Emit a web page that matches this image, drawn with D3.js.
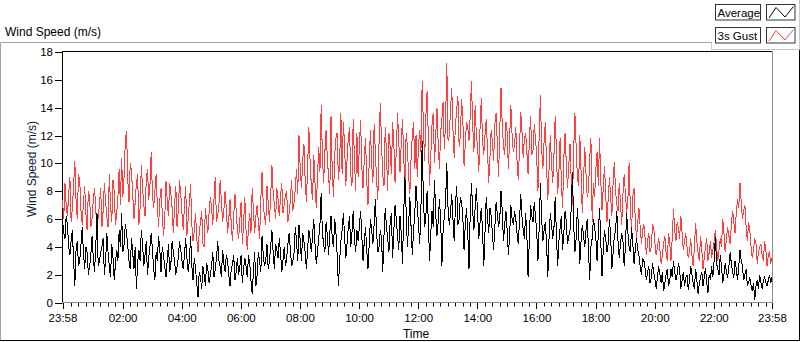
<!DOCTYPE html>
<html>
<head>
<meta charset="utf-8">
<script src="https://cdn.jsdelivr.net/npm/d3@7/dist/d3.min.js"></script>
<style>
  body { margin: 0; background: #fff; }
  svg { display: block; font-family: "Liberation Sans", Arial, sans-serif; }
</style>
</head>
<body>
<div id="chart"></div>
<script>
'use strict';

// 2.5 minute samples from 23:58 to 23:58 next day, one row per 2 hours
const gust = [
    7.4, 6.0, 8.6, 7.0, 6.2, 7.8, 9.0, 5.8, 6.8, 8.4, 10.2, 7.4, 6.0, 9.2, 8.8, 6.6, 5.6, 7.2, 8.4, 6.4, 5.2, 8.0, 7.6, 5.4, 6.0, 7.4, 8.2, 6.8, 4.8, 6.2, 7.0, 8.2, 5.4, 6.6, 8.6, 7.2, 6.2, 5.4, 9.2, 7.0, 5.8, 8.8, 8.0, 5.6, 6.4, 7.6, 9.6, 7.0,
    10.4, 7.6, 9.0, 11.6, 12.3, 8.8, 7.2, 10.0, 9.4, 7.8, 6.0, 7.2, 8.6, 9.2, 5.6, 6.8, 9.9, 8.2, 7.0, 6.2, 8.8, 9.6, 7.4, 8.4, 10.8, 7.8, 6.8, 8.0, 9.2, 7.0, 5.4, 7.4, 8.2, 6.4, 4.8, 6.0, 8.7, 7.4, 6.2, 8.6, 7.8, 6.8, 5.0, 7.0, 8.4, 5.4, 6.6, 8.8,
    7.8, 6.4, 5.2, 7.0, 8.4, 4.8, 6.0, 7.2, 8.5, 5.6, 4.4, 5.2, 6.4, 4.6, 3.6, 5.0, 5.8, 6.6, 4.2, 4.0, 6.8, 5.8, 5.0, 6.4, 7.6, 6.8, 5.6, 7.4, 9.0, 5.8, 6.2, 7.0, 8.8, 7.2, 5.8, 6.6, 8.0, 6.8, 5.0, 6.0, 7.4, 5.6, 4.4, 6.2, 7.8, 6.6, 5.2, 4.6,
    6.0, 7.2, 4.2, 5.6, 7.6, 5.2, 3.8, 5.4, 6.4, 5.0, 8.2, 6.6, 5.0, 6.2, 7.0, 5.8, 4.6, 7.4, 9.4, 7.0, 6.2, 5.6, 8.4, 7.2, 5.8, 7.6, 9.9, 8.0, 7.0, 6.0, 8.2, 7.4, 6.2, 7.6, 8.6, 6.4, 7.0, 7.8, 8.0, 5.8, 6.4, 7.4, 8.8, 6.6, 7.2, 8.2, 9.6, 7.8,
    12.0, 9.6, 8.2, 10.2, 11.4, 8.8, 7.2, 9.8, 12.6, 10.2, 8.4, 7.4, 10.6, 8.6, 6.8, 9.0, 11.2, 9.4, 14.2, 10.6, 8.6, 10.8, 12.4, 10.4, 9.0, 7.8, 13.4, 9.4, 7.6, 10.6, 11.8, 12.2, 8.8, 10.0, 13.6, 9.2, 13.0, 11.4, 8.4, 10.2, 11.8, 12.6, 9.2, 8.4, 13.2, 10.4, 8.0, 12.2,
    9.0, 11.2, 13.1, 9.8, 8.2, 10.4, 11.8, 8.8, 7.0, 10.2, 12.4, 10.0, 8.6, 12.8, 10.8, 8.8, 7.4, 11.6, 14.3, 11.4, 9.2, 8.4, 12.6, 10.8, 8.0, 12.2, 11.2, 9.2, 13.0, 11.4, 8.6, 11.0, 13.6, 11.6, 9.4, 11.4, 13.2, 10.6, 8.2, 12.2, 11.2, 9.0, 7.8, 10.4, 12.0, 13.0, 9.6, 12.0,
    9.0, 11.2, 12.4, 10.8, 15.9, 12.6, 10.2, 13.4, 15.2, 11.8, 8.4, 10.6, 12.8, 13.6, 10.0, 12.0, 14.0, 11.4, 9.6, 12.2, 13.2, 14.4, 11.0, 13.0, 17.2, 11.6, 12.0, 13.8, 15.4, 12.4, 10.4, 12.8, 13.8, 14.8, 11.2, 12.0, 14.6, 13.2, 9.8, 11.4, 13.0, 12.6, 11.6, 13.4, 15.9, 12.8, 10.8, 14.2,
    12.0, 11.2, 9.4, 12.6, 14.7, 11.6, 10.6, 12.0, 13.2, 11.0, 8.6, 10.4, 12.4, 11.6, 10.2, 12.8, 13.6, 11.4, 9.0, 12.4, 15.4, 12.8, 11.2, 10.6, 13.0, 12.2, 9.6, 11.8, 14.2, 12.0, 10.8, 11.4, 12.6, 10.2, 8.8, 11.0, 13.7, 12.4, 10.4, 11.8, 12.2, 10.8, 9.2, 11.6, 13.4, 10.6, 11.0, 12.8,
    11.8, 10.4, 8.0, 12.2, 14.9, 11.0, 9.6, 11.6, 13.0, 9.8, 7.4, 9.6, 12.0, 10.0, 8.6, 10.6, 13.4, 10.8, 7.8, 9.4, 11.8, 8.6, 6.8, 10.4, 12.2, 10.0, 8.2, 9.8, 11.4, 8.8, 7.0, 11.0, 13.6, 11.2, 9.0, 8.4, 12.0, 9.4, 6.4, 8.8, 11.2, 9.2, 7.6, 8.0, 10.4, 11.8, 5.8, 8.6,
    7.6, 9.6, 10.8, 8.4, 11.8, 8.8, 6.6, 8.2, 9.8, 7.8, 5.8, 7.4, 9.0, 7.6, 6.2, 8.6, 10.1, 8.0, 7.0, 6.6, 8.6, 7.2, 5.6, 7.8, 9.2, 7.8, 6.4, 7.4, 10.0, 6.8, 5.2, 7.6, 8.2, 6.0, 4.6, 5.8, 6.8, 5.4, 4.2, 5.2, 5.6, 4.6, 3.4, 4.4, 5.0, 3.6, 4.0, 5.6,
    5.4, 4.2, 3.4, 4.0, 4.6, 3.8, 2.8, 3.4, 4.2, 4.8, 3.6, 3.0, 5.0, 4.2, 3.0, 4.6, 6.7, 5.2, 4.4, 5.8, 5.4, 4.6, 6.2, 5.0, 3.8, 4.4, 5.0, 4.0, 3.2, 3.6, 4.6, 3.4, 2.6, 4.0, 5.7, 4.4, 3.6, 3.0, 4.8, 3.8, 2.4, 3.2, 4.0, 4.6, 3.0, 3.6, 4.4, 3.2,
    3.8, 4.4, 5.2, 4.0, 3.0, 3.8, 4.6, 4.0, 6.0, 5.0, 3.6, 4.6, 5.4, 4.8, 4.2, 5.6, 6.6, 5.8, 5.0, 6.4, 7.4, 6.8, 8.6, 7.2, 6.0, 6.6, 7.0, 5.4, 4.4, 5.8, 5.2, 4.0, 3.2, 3.8, 4.6, 4.2, 2.8, 3.6, 4.0, 4.2, 3.4, 3.0, 4.4, 3.8, 2.6, 3.4, 3.6, 2.8,
    3.2
];

const average = [
    6.0, 5.0, 4.6, 6.2, 5.6, 4.0, 3.4, 4.4, 5.2, 3.0, 1.2, 3.8, 4.4, 2.6, 3.0, 4.2, 5.4, 3.6, 2.4, 4.0, 3.6, 2.0, 2.6, 3.4, 4.8, 3.2, 2.2, 4.0, 6.4, 2.6, 3.0, 3.6, 4.0, 4.6, 2.0, 3.0, 5.0, 3.6, 2.6, 1.8, 4.2, 3.2, 1.6, 2.8, 3.8, 3.0, 5.2, 4.0,
    6.4, 3.6, 4.2, 5.6, 5.0, 4.0, 3.0, 2.4, 4.6, 3.6, 2.4, 4.0, 1.0, 2.8, 3.8, 3.0, 5.2, 4.2, 2.6, 3.4, 4.4, 2.0, 3.2, 4.0, 5.0, 3.8, 2.4, 1.6, 3.6, 3.0, 4.8, 3.8, 2.2, 4.0, 3.4, 2.6, 1.8, 3.0, 4.2, 2.2, 2.8, 4.4, 3.6, 3.0, 2.0, 2.6, 3.2, 4.4,
    3.8, 3.0, 2.4, 3.4, 4.6, 3.2, 2.2, 3.0, 4.8, 2.6, 1.6, 3.2, 2.4, 1.4, 0.4, 2.2, 1.8, 1.0, 2.6, 2.0, 1.2, 2.8, 2.4, 1.4, 2.0, 2.6, 3.6, 1.8, 2.4, 3.2, 4.4, 3.0, 2.6, 1.8, 3.8, 2.8, 2.2, 3.4, 3.0, 2.0, 1.2, 2.4, 2.8, 3.4, 1.6, 2.2, 3.2, 2.0,
    2.6, 3.4, 1.4, 2.4, 3.2, 2.6, 1.8, 3.4, 2.8, 1.6, 0.6, 2.2, 3.6, 1.2, 2.0, 3.6, 3.0, 2.2, 4.8, 3.4, 2.6, 3.0, 4.2, 2.4, 3.0, 4.0, 5.2, 3.6, 2.4, 4.2, 3.8, 3.2, 4.6, 3.6, 2.2, 3.0, 4.0, 2.6, 3.2, 4.2, 5.0, 3.8, 2.6, 3.0, 3.6, 5.4, 4.4, 3.0,
    5.6, 4.4, 3.0, 5.0, 4.4, 3.6, 2.4, 3.8, 5.2, 4.6, 3.6, 4.8, 6.0, 4.2, 2.8, 3.6, 4.6, 5.6, 7.9, 5.0, 4.2, 3.6, 5.8, 4.8, 3.4, 5.0, 6.2, 4.6, 4.0, 6.0, 5.0, 3.4, 1.2, 3.0, 4.4, 5.2, 6.4, 4.8, 3.2, 4.2, 5.4, 6.2, 4.0, 5.0, 6.6, 4.6, 3.6, 5.2,
    4.4, 5.4, 6.6, 4.8, 3.0, 4.4, 5.4, 3.8, 2.4, 4.2, 6.0, 5.2, 4.2, 5.6, 7.4, 5.0, 3.6, 4.0, 5.2, 4.6, 2.2, 4.8, 6.8, 5.4, 4.6, 3.6, 5.8, 6.4, 3.2, 5.2, 7.0, 6.0, 4.8, 3.8, 6.2, 5.0, 2.8, 6.4, 9.0, 6.6, 4.0, 5.6, 7.6, 5.4, 3.4, 5.2, 6.4, 8.4,
    7.0, 5.6, 4.2, 6.8, 11.6, 7.4, 5.4, 6.2, 8.0, 5.8, 3.0, 5.0, 6.6, 5.4, 8.8, 6.4, 4.8, 5.8, 7.4, 6.0, 2.6, 5.2, 6.2, 7.2, 10.0, 6.8, 5.6, 6.4, 7.8, 6.0, 4.4, 7.0, 8.4, 5.6, 6.0, 7.6, 7.2, 6.2, 3.8, 5.6, 6.8, 5.0, 2.4, 6.4, 8.6, 6.6, 5.2, 6.8,
    8.2, 6.4, 4.6, 5.8, 6.8, 5.2, 2.6, 5.0, 7.6, 6.2, 5.0, 6.8, 6.2, 5.0, 3.8, 5.4, 7.2, 6.4, 5.4, 6.0, 8.0, 6.6, 4.4, 5.6, 6.6, 5.2, 3.4, 4.8, 7.0, 6.0, 5.6, 6.6, 6.0, 5.0, 4.2, 5.8, 7.8, 6.2, 5.2, 4.6, 6.4, 4.8, 1.8, 4.6, 7.0, 6.2, 5.8, 7.2,
    6.2, 5.0, 3.0, 5.4, 8.6, 6.0, 4.4, 5.2, 5.8, 4.2, 1.8, 4.6, 6.4, 5.6, 4.6, 5.4, 7.6, 4.8, 2.6, 4.4, 5.4, 6.2, 3.8, 5.0, 6.6, 5.8, 4.2, 4.8, 5.2, 6.8, 9.4, 5.6, 3.6, 4.6, 6.8, 5.2, 2.8, 4.4, 5.6, 4.8, 4.0, 5.2, 6.0, 3.8, 1.6, 4.0, 4.6, 6.0,
    5.4, 4.6, 3.0, 5.0, 6.8, 4.4, 1.9, 3.8, 5.2, 4.6, 3.6, 4.2, 6.0, 4.8, 2.4, 3.6, 4.8, 5.2, 6.6, 4.4, 3.2, 4.2, 5.0, 4.4, 2.6, 4.0, 6.4, 5.0, 4.0, 3.6, 5.4, 4.2, 2.8, 3.8, 4.6, 3.8, 3.4, 2.6, 2.0, 3.2, 3.0, 2.4, 1.6, 2.2, 2.6, 1.4, 1.8, 2.8,
    2.2, 1.6, 1.0, 1.8, 2.6, 2.0, 1.4, 2.2, 0.8, 1.4, 2.0, 2.4, 1.2, 1.6, 2.4, 1.8, 3.0, 2.2, 1.6, 2.0, 2.8, 2.4, 1.0, 1.6, 2.2, 1.2, 1.8, 2.0, 0.9, 1.6, 2.6, 2.0, 1.4, 1.0, 2.4, 1.6, 0.6, 1.4, 1.8, 2.2, 1.2, 1.8, 2.5, 1.4, 0.7, 2.0, 1.6, 2.6,
    1.8, 3.0, 4.7, 2.8, 2.4, 2.0, 3.4, 2.6, 1.4, 2.0, 2.8, 2.2, 1.8, 2.6, 3.6, 2.8, 2.2, 1.8, 3.0, 2.4, 1.6, 2.6, 3.8, 3.0, 2.6, 1.6, 2.0, 2.4, 1.2, 1.4, 1.8, 1.2, 0.8, 1.4, 0.2, 1.2, 1.6, 1.0, 2.0, 1.4, 1.0, 1.6, 1.8, 1.4, 1.2, 1.6, 2.0, 1.4,
    1.8
];

// minutes relative to midnight, chart runs 23:58 -> 23:58
const startMinute = -2;
const spanMinutes = 1440;
const xTickMinutes = [-2, 120, 240, 360, 480, 600, 720, 840, 960, 1080, 1200, 1320, 1438];
const xTickLabels = ['23:58', '02:00', '04:00', '06:00', '08:00', '10:00', '12:00', '14:00', '16:00', '18:00', '20:00', '22:00', '23:58'];
const yTicks = [0, 2, 4, 6, 8, 10, 12, 14, 16, 18];
const legendNames = ['Average', '3s Gust'];
const legendColors = ['#000000', '#ff4040'];

const size = { width: 800, height: 342 };
const plot = { left: 62.5, right: 772, top: 52, bottom: 302.5 };

function init() {
    const svg = d3.select('#chart')
        .append('svg')
        .attr('width', size.width)
        .attr('height', size.height);

    drawFrame(svg);
    drawAxes(svg);
    drawSeries(svg);
    drawLegend(svg);
}

function drawFrame(svg) {
    const g = svg.append('g').attr('fill', 'none');
    // outer panel
    g.append('path').attr('d', 'M0.5,341 V42.5 H712').attr('stroke', '#a0a0a0');
    g.append('path').attr('d', 'M0,340.5 H799.5 V49.5').attr('stroke', '#000');
    // legend panel edge
    g.append('path').attr('d', 'M711.5,42.5 V49.5 H799.5 V0').attr('stroke', '#c8c8c8');

    svg.append('text')
        .attr('x', 5)
        .attr('y', 35.5)
        .attr('font-size', 12)
        .text('Wind Speed (m/s)');
}

function drawAxes(svg) {
    const x = xScale();
    const y = yScale();

    // plot area
    svg.append('rect')
        .attr('x', plot.left).attr('y', plot.top - 0.5)
        .attr('width', plot.right - plot.left).attr('height', plot.bottom - plot.top + 0.5)
        .attr('fill', '#fff');

    const border = svg.append('g').attr('fill', 'none');
    border.append('path')
        .attr('d', `M${plot.left},${plot.bottom} V${plot.top - 0.5} H${plot.right}`)
        .attr('stroke', '#000');
    border.append('path')
        .attr('d', `M${plot.right + 0.5},${plot.top - 0.5} V${plot.bottom} H${plot.left}`)
        .attr('stroke', '#8c8c8c');

    // y axis
    const yg = svg.append('g');
    yg.selectAll('line')
        .data(yTicks)
        .enter()
        .append('line')
        .attr('x1', 55).attr('x2', plot.left)
        .attr('y1', d => Math.round(y(d)) + 0.5)
        .attr('y2', d => Math.round(y(d)) + 0.5)
        .attr('stroke', '#000');
    yg.selectAll('text')
        .data(yTicks)
        .enter()
        .append('text')
        .attr('x', 53)
        .attr('y', d => y(d) + 4)
        .attr('text-anchor', 'end')
        .attr('font-size', 11.5)
        .text(d => d);

    svg.append('text')
        .attr('transform', 'translate(35.5,169) rotate(-90)')
        .attr('text-anchor', 'middle')
        .attr('font-size', 12)
        .attr('fill', '#0c1a40')
        .text('Wind Speed (m/s)');

    // x axis: minor ticks every 15 min, major every 2 h
    const minor = d3.range(0, 1440, 15).filter(m => m % 120 !== 0);
    const xg = svg.append('g');
    xg.selectAll('.minor')
        .data(minor)
        .enter()
        .append('line')
        .attr('class', 'minor')
        .attr('x1', d => Math.round(x(d)) + 0.5)
        .attr('x2', d => Math.round(x(d)) + 0.5)
        .attr('y1', 303).attr('y2', 306.5)
        .attr('stroke', '#000');
    xg.selectAll('.major')
        .data(xTickMinutes)
        .enter()
        .append('line')
        .attr('class', 'major')
        .attr('x1', d => Math.round(x(d)) + 0.5)
        .attr('x2', d => Math.round(x(d)) + 0.5)
        .attr('y1', 303).attr('y2', 309)
        .attr('stroke', '#000');
    xg.selectAll('text')
        .data(xTickMinutes)
        .enter()
        .append('text')
        .attr('x', d => x(d) + 0.5)
        .attr('y', 321.5)
        .attr('text-anchor', 'middle')
        .attr('font-size', 11.5)
        .text((d, i) => xTickLabels[i]);

    svg.append('text')
        .attr('x', 416)
        .attr('y', 337.5)
        .attr('text-anchor', 'middle')
        .attr('font-size', 12)
        .text('Time');
}

function drawSeries(svg) {
    const x = xScale();
    const y = yScale();

    const line = series => d3.line()
        .x((d, i) => x(startMinute + i * spanMinutes / (series.length - 1)))
        .y(d => y(d));

    // gust first so the average trace sits on top
    [gust, average].forEach((series, k) => {
        svg.append('path')
            .datum(series)
            .attr('d', line(series))
            .attr('fill', 'none')
            .attr('stroke', k === 0 ? legendColors[1] : legendColors[0])
            .attr('stroke-width', 1)
            .attr('shape-rendering', 'crispEdges');
    });
}

function drawLegend(svg) {
    const rows = svg.selectAll('.legend')
        .data(legendNames)
        .enter()
        .append('g')
        .attr('class', 'legend')
        .attr('transform', (d, i) => `translate(0,${i * 23})`);

    rows.append('rect')
        .attr('x', 715.5).attr('y', 4.5)
        .attr('width', 45).attr('height', 15.5)
        .attr('fill', '#fff').attr('stroke', '#333');
    rows.append('text')
        .attr('x', 717.5).attr('y', 16.5)
        .attr('font-size', 11.5)
        .text(d => d);
    rows.append('rect')
        .attr('x', 766.5).attr('y', 4.5)
        .attr('width', 28.5).attr('height', 15.5)
        .attr('fill', '#fff').attr('stroke', '#333');
    rows.append('path')
        .attr('d', 'M769,18 L776,7.5 L785,17 L793.5,6.5')
        .attr('fill', 'none')
        .attr('stroke', (d, i) => legendColors[i]);
}

function xScale() {
    return d3.scaleLinear()
        .domain([startMinute, startMinute + spanMinutes])
        .range([plot.left, plot.right]);
}

function yScale() {
    return d3.scaleLinear()
        .domain([0, 18])
        .range([plot.bottom, plot.top]);
}

init();
</script>
</body>
</html>
